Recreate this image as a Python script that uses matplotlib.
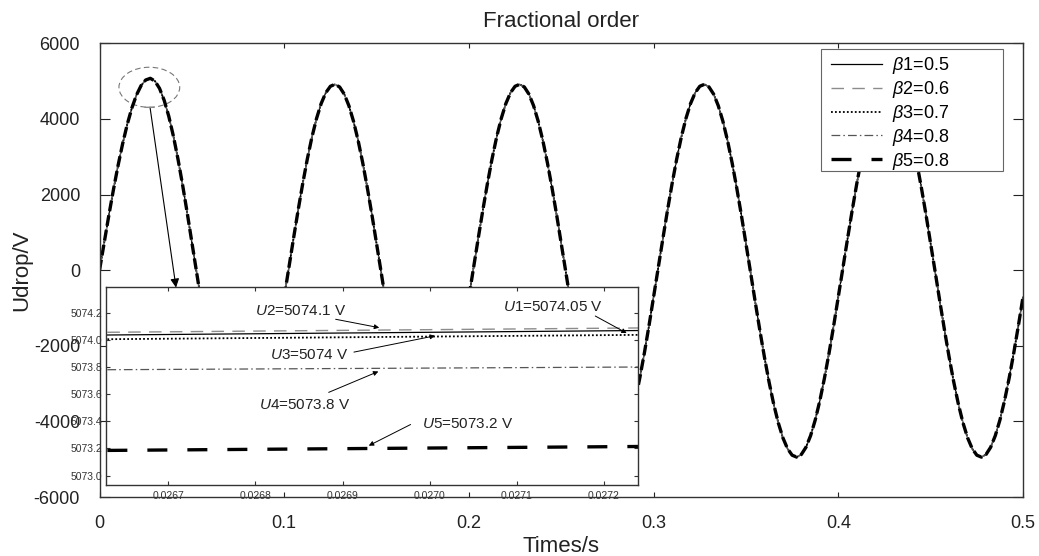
import matplotlib
matplotlib.use('Agg')
import matplotlib.pyplot as plt
from matplotlib.patches import Ellipse, Rectangle
import numpy as np

plt.rcParams['font.family'] = ['Liberation Sans', 'DejaVu Sans']
plt.rcParams['mathtext.fontset'] = 'custom'
plt.rcParams['mathtext.rm'] = 'Liberation Sans'
plt.rcParams['mathtext.it'] = 'Liberation Sans:italic'
plt.rcParams['axes.unicode_minus'] = False

# voltage drop every 2.5 ms (0 .. 0.5 s)
t = np.linspace(0, 0.5, 201)
u_drop = [
    0, 727, 1440, 2122, 2761, 3343, 3855, 4289, 4633, 4882,
    5030, 5074, 5001, 4806, 4492, 4068, 3543, 2931, 2246, 1507,
    731, -62, -835, -1587, -2300, -2957, -3541, -4037, -4434, -4722,
    -4894, -4945, -4874, -4683, -4377, -3964, -3453, -2856, -2190, -1469,
    -712, 62, 830, 1578, 2286, 2939, 3519, 4012, 4407, 4693,
    4864, 4915, 4844, 4655, 4351, 3940, 3432, 2839, 2176, 1460,
    708, -62, -835, -1587, -2300, -2957, -3541, -4037, -4434, -4722,
    -4894, -4945, -4874, -4683, -4377, -3964, -3453, -2856, -2190, -1469,
    -712, 62, 830, 1578, 2286, 2939, 3519, 4012, 4407, 4693,
    4864, 4915, 4844, 4655, 4351, 3940, 3432, 2839, 2176, 1460,
    708, -62, -835, -1587, -2300, -2957, -3541, -4037, -4434, -4722,
    -4894, -4945, -4874, -4683, -4377, -3964, -3453, -2856, -2190, -1469,
    -712, 62, 830, 1578, 2286, 2939, 3519, 4012, 4407, 4693,
    4864, 4915, 4844, 4655, 4351, 3940, 3432, 2839, 2176, 1460,
    708, -62, -835, -1587, -2300, -2957, -3541, -4037, -4434, -4722,
    -4894, -4945, -4874, -4683, -4377, -3964, -3453, -2856, -2190, -1469,
    -712, 62, 830, 1578, 2286, 2939, 3519, 4012, 4407, 4693,
    4864, 4915, 4844, 4655, 4351, 3940, 3432, 2839, 2176, 1460,
    708, -62, -835, -1587, -2300, -2957, -3541, -4037, -4434, -4722,
    -4894, -4945, -4874, -4683, -4377, -3964, -3453, -2856, -2190, -1469,
    -712,
]

beta_labels = [r'$\mathit{\beta}$1=0.5', r'$\mathit{\beta}$2=0.6', r'$\mathit{\beta}$3=0.7',
               r'$\mathit{\beta}$4=0.8', r'$\mathit{\beta}$5=0.8']

# zoom around the first peak
t_zoom = [0.02663, 0.02724]
u_zoom = [
    [5074.036, 5074.069],
    [5074.056, 5074.088],
    [5074.005, 5074.037],
    [5073.780, 5073.800],
    [5073.185, 5073.214],
]
u_notes = ['1=5074.05 V', '2=5074.1 V', '3=5074 V', '4=5073.8 V', '5=5073.2 V']

styles = [
    dict(color='black', lw=0.9, ls='-'),
    dict(color='#8c8c8c', lw=1.0, ls=(0, (9, 6))),
    dict(color='black', lw=1.3, ls=(0, (1, 1.2))),
    dict(color='#555555', lw=0.9, ls=(0, (7, 2.5, 1.2, 2.5))),
    dict(color='black', lw=2.4, ls=(0, (6, 6))),
]

fig = plt.figure(figsize=(10.39, 5.56), dpi=100)
ax = fig.add_axes([0.0958, 0.1061, 0.8888, 0.8160])

for i in range(5):
    st = dict(styles[i])
    if i == 4:
        st['ls'] = (0, (3.2, 1.3))
    ax.plot(t, u_drop, **st)

ax.set_xlim(0, 0.5)
ax.set_ylim(-6000, 6000)
ax.set_xticks([0, 0.1, 0.2, 0.3, 0.4, 0.5])
ax.set_xticklabels(['0', '0.1', '0.2', '0.3', '0.4', '0.5'])
ax.set_yticks([-6000, -4000, -2000, 0, 2000, 4000, 6000])
ax.tick_params(axis='x', direction='in', top=True, length=3.6, pad=13, labelsize=13,
               colors='#222222')
ax.tick_params(axis='y', direction='in', right=True, length=7, pad=14, labelsize=13,
               colors='#222222')
for s in ax.spines.values():
    s.set_color('#333333')
    s.set_linewidth(1.0)
ax.set_xlabel('Times/s', fontsize=16, labelpad=3, color='#222222')
ax.set_ylabel('Udrop/V', fontsize=16, labelpad=1, color='#222222')
ax.set_title('Fractional order', fontsize=16, pad=12, color='#222222')

# marker around the first peak and pointer to the zoom box
ax.add_patch(Ellipse((0.02696, 4837), width=0.0329, height=1060, fill=False,
                     ls=(0, (5, 3)), ec='#777777', lw=0.8))
ax.annotate('', xy=(0.04142, -461), xytext=(0.02734, 4307),
            arrowprops=dict(arrowstyle='-|>', color='black', lw=0.8,
                            mutation_scale=13, shrinkA=0, shrinkB=0))
ax.annotate('', xy=(0.0295, 4307), xytext=(0.0246, 4307),
            arrowprops=dict(arrowstyle='-', color='#888888', lw=1.0,
                            shrinkA=0, shrinkB=0))

# inset
axi = fig.add_axes([0.1025, 0.1277, 0.51155, 0.35612])
axi.set_facecolor('white')
handles = []
for i in range(5):
    ln, = axi.plot(t_zoom, u_zoom[i], **styles[i])
    handles.append(ln)
axi.set_xlim(0.026629, 0.027239)
axi.set_ylim(5072.93, 5074.39)
axi.set_xticks([0.0267, 0.0268, 0.0269, 0.0270, 0.0271, 0.0272])
axi.set_xticklabels(['%.4f' % v for v in [0.0267, 0.0268, 0.0269, 0.0270, 0.0271, 0.0272]])
axi.set_yticks([5073.0, 5073.2, 5073.4, 5073.6, 5073.8, 5074.0, 5074.2])
axi.set_yticklabels(['%.1f' % v for v in [5073.0, 5073.2, 5073.4, 5073.6, 5073.8, 5074.0, 5074.2]])
axi.tick_params(direction='in', top=True, right=True, length=3, pad=3, labelsize=7.5,
                colors='#333333')
axi.tick_params(axis='x', pad=4)
for s in axi.spines.values():
    s.set_color('#333333')
    s.set_linewidth(1.0)

note_xy = [(0.027141, 5074.24), (0.026852, 5074.21), (0.026862, 5073.89),
           (0.026856, 5073.523), (0.027043, 5073.383)]
arrow_tail = [(0.02719, 5074.176), (0.026892, 5074.152), (0.026913, 5073.91),
              (0.026884, 5073.613), (0.026978, 5073.376)]
arrow_head = [(0.027226, 5074.05), (0.026942, 5074.09), (0.027006, 5074.03),
              (0.026941, 5073.767), (0.02693, 5073.22)]
for i in range(5):
    axi.text(note_xy[i][0], note_xy[i][1], r'$\mathit{U}$' + u_notes[i], fontsize=11,
             ha='center', va='center', color='#222222')
    axi.annotate('', xy=arrow_head[i], xytext=arrow_tail[i],
                 arrowprops=dict(arrowstyle='-|>', color='black', lw=0.7,
                                 mutation_scale=7, shrinkA=0, shrinkB=0))

# legend: wide box with empty space on the right, like the original
ax.add_patch(Rectangle((0.7809, 0.7192), 0.1975, 0.2682, transform=ax.transAxes,
                       facecolor='white', edgecolor='#666666', lw=0.8, zorder=9))
leg = ax.legend(handles, beta_labels, loc='upper left', bbox_to_anchor=(0.7921, 0.974),
                borderaxespad=0, borderpad=0, fontsize=13, handlelength=2.8,
                handletextpad=0.6, labelspacing=0.16, frameon=False)
leg.set_zorder(10)

fig.savefig('out.png', dpi=100)
